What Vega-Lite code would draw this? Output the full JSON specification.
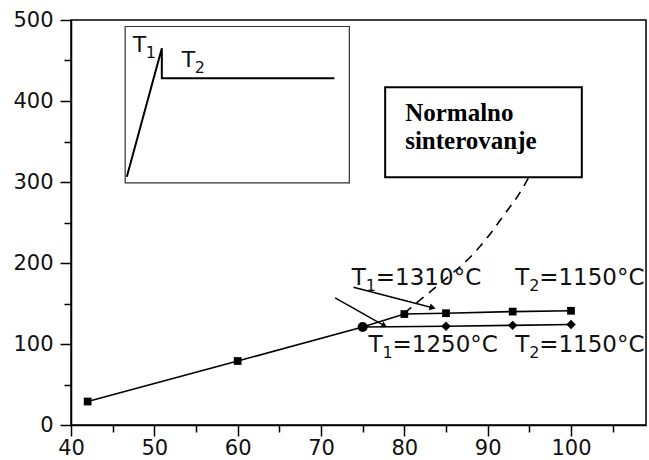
{
  "$schema": "https://vega.github.io/schema/vega-lite/v6.json",
  "width": 575,
  "height": 405,
  "autosize": "none",
  "padding": {"left": 71, "top": 20, "right": 3, "bottom": 35},
  "background": "white",
  "config": {
    "view": {"stroke": "black", "strokeWidth": 1.5},
    "axis": {
      "domainColor": "black", "domainWidth": 1.5,
      "tickColor": "black", "tickWidth": 1.5,
      "labelFont": "DejaVu Sans", "labelFontSize": 21, "labelColor": "#111",
      "grid": false, "title": null
    }
  },
  "datasets": {
    "lineA": [
      {"x": 42, "y": 29}, {"x": 60, "y": 79}, {"x": 75, "y": 121}, {"x": 80, "y": 137},
      {"x": 85, "y": 138}, {"x": 93, "y": 140}, {"x": 100, "y": 141}
    ],
    "squares": [
      {"x": 42, "y": 29}, {"x": 60, "y": 79}, {"x": 80, "y": 137},
      {"x": 85, "y": 138}, {"x": 93, "y": 140}, {"x": 100, "y": 141}
    ],
    "lineB": [
      {"x": 75, "y": 121}, {"x": 85, "y": 122}, {"x": 93, "y": 123}, {"x": 100, "y": 124}
    ],
    "diamonds": [
      {"x": 85, "y": 122}, {"x": 93, "y": 123}, {"x": 100, "y": 124}
    ],
    "junction": [{"x": 75, "y": 121}],
    "curve": [
      {"x": 80, "y": 138}, {"x": 81.5, "y": 151}, {"x": 83.4, "y": 167}, {"x": 85.5, "y": 185},
      {"x": 87.6, "y": 204}, {"x": 90, "y": 232}, {"x": 92, "y": 260}, {"x": 94, "y": 289},
      {"x": 95.5, "y": 318}, {"x": 97, "y": 358}, {"x": 98.5, "y": 425}
    ],
    "inset": [
      {"i": 1, "x": 46.7, "y": 306.5}, {"i": 2, "x": 50.9, "y": 465},
      {"i": 3, "x": 50.9, "y": 428}, {"i": 4, "x": 71.6, "y": 428}
    ],
    "insetBox": [{"x": 46.5, "x2": 73.4, "y": 299, "y2": 492}],
    "noteBox": [{"x": 77.7, "x2": 101.3, "y": 306, "y2": 417}],
    "noteText": [
      {"x": 80.1, "y": 375.7, "t": "Normalno"},
      {"x": 80.1, "y": 340.4, "t": "sinterovanje"}
    ],
    "insetText": [
      {"x": 47.4, "y": 461, "t": "T", "sub": "1"},
      {"x": 53.3, "y": 442, "t": "T", "sub": "2"}
    ],
    "labels": [
      {"x": 73.7, "y": 172.8, "t": "T", "sub": "1", "rest": "=1310°C"},
      {"x": 93.3, "y": 172.8, "t": "T", "sub": "2", "rest": "=1150°C"},
      {"x": 75.7, "y": 90.5, "t": "T", "sub": "1", "rest": "=1250°C"},
      {"x": 93.3, "y": 90.5, "t": "T", "sub": "2", "rest": "=1150°C"}
    ],
    "arrow1": [{"x": 73.9, "y": 170}, {"x": 83.5, "y": 144.5}],
    "head1": [{"x": 83.4, "y": 144.8}],
    "arrow2": [{"x": 71.7, "y": 157}, {"x": 77.8, "y": 121.5}],
    "head2": [{"x": 77.6, "y": 122.6}]
  },
  "encoding": {
    "x": {
      "field": "x", "type": "quantitative",
      "scale": {"domain": [40, 109], "nice": false, "zero": false},
      "axis": {
        "values": [40, 45, 50, 55, 60, 65, 70, 75, 80, 85, 90, 95, 100, 105],
        "labelExpr": "datum.value % 10 === 0 ? datum.label : ''",
        "tickSize": {"condition": {"test": "datum.value % 10 !== 0", "value": 7}, "value": 11},
        "labelPadding": 1, "labelFlush": false, "labelOverlap": false
      }
    },
    "y": {
      "field": "y", "type": "quantitative",
      "scale": {"domain": [0, 500], "nice": false},
      "axis": {
        "values": [0, 50, 100, 150, 200, 250, 300, 350, 400, 450, 500],
        "labelExpr": "datum.value % 100 === 0 ? datum.label : ''",
        "tickSize": {"condition": {"test": "datum.value % 100 !== 0", "value": 7}, "value": 11},
        "labelPadding": 7, "labelFlush": false, "labelOverlap": false
      }
    }
  },
  "layer": [
    {
      "data": {"name": "insetBox"},
      "mark": {"type": "rect", "fill": "white", "stroke": "#333", "strokeWidth": 1.2},
      "encoding": {"x2": {"field": "x2"}, "y2": {"field": "y2"}}
    },
    {
      "data": {"name": "inset"},
      "mark": {"type": "line", "color": "black", "strokeWidth": 2},
      "encoding": {"order": {"field": "i", "type": "quantitative"}}
    },
    {
      "data": {"name": "insetText"},
      "mark": {"type": "text", "font": "DejaVu Sans", "fontSize": 22, "align": "left", "baseline": "alphabetic", "color": "#111"},
      "encoding": {"text": {"field": "t"}}
    },
    {
      "data": {"name": "insetText"},
      "mark": {"type": "text", "font": "DejaVu Sans", "fontSize": 16, "align": "left", "baseline": "alphabetic", "color": "#111", "dx": 13, "dy": 6},
      "encoding": {"text": {"field": "sub"}}
    },
    {
      "data": {"name": "curve"},
      "mark": {"type": "line", "color": "black", "strokeWidth": 1.6, "strokeDash": [9, 7], "interpolate": "monotone"}
    },
    {
      "data": {"name": "noteBox"},
      "mark": {"type": "rect", "fill": "white", "stroke": "black", "strokeWidth": 2},
      "encoding": {"x2": {"field": "x2"}, "y2": {"field": "y2"}}
    },
    {
      "data": {"name": "noteText"},
      "mark": {"type": "text", "font": "Liberation Serif", "fontWeight": "bold", "fontSize": 25, "align": "left", "baseline": "alphabetic", "color": "black"},
      "encoding": {"text": {"field": "t"}}
    },
    {
      "data": {"name": "lineA"},
      "mark": {"type": "line", "color": "black", "strokeWidth": 1.6}
    },
    {
      "data": {"name": "lineB"},
      "mark": {"type": "line", "color": "black", "strokeWidth": 1.6}
    },
    {
      "data": {"name": "arrow1"},
      "mark": {"type": "line", "color": "black", "strokeWidth": 1.5}
    },
    {
      "data": {"name": "arrow2"},
      "mark": {"type": "line", "color": "black", "strokeWidth": 1.5}
    },
    {
      "data": {"name": "head1"},
      "mark": {"type": "point", "shape": "triangle-right", "filled": true, "color": "black", "size": 50, "angle": 15, "opacity": 1}
    },
    {
      "data": {"name": "head2"},
      "mark": {"type": "point", "shape": "triangle-right", "filled": true, "color": "black", "size": 40, "angle": 29, "opacity": 1}
    },
    {
      "data": {"name": "squares"},
      "mark": {"type": "point", "shape": "square", "filled": true, "color": "black", "size": 60, "opacity": 1}
    },
    {
      "data": {"name": "diamonds"},
      "mark": {"type": "point", "shape": "diamond", "filled": true, "color": "black", "size": 90, "opacity": 1}
    },
    {
      "data": {"name": "junction"},
      "mark": {"type": "point", "shape": "circle", "filled": true, "color": "black", "size": 100, "opacity": 1}
    },
    {
      "data": {"name": "labels"},
      "mark": {"type": "text", "font": "DejaVu Sans", "fontSize": 23, "align": "left", "baseline": "alphabetic", "color": "#111"},
      "encoding": {"text": {"field": "t"}}
    },
    {
      "data": {"name": "labels"},
      "mark": {"type": "text", "font": "DejaVu Sans", "fontSize": 16, "align": "left", "baseline": "alphabetic", "color": "#111", "dx": 14, "dy": 6},
      "encoding": {"text": {"field": "sub"}}
    },
    {
      "data": {"name": "labels"},
      "mark": {"type": "text", "font": "DejaVu Sans", "fontSize": 23, "align": "left", "baseline": "alphabetic", "color": "#111", "dx": 24},
      "encoding": {"text": {"field": "rest"}}
    }
  ]
}
